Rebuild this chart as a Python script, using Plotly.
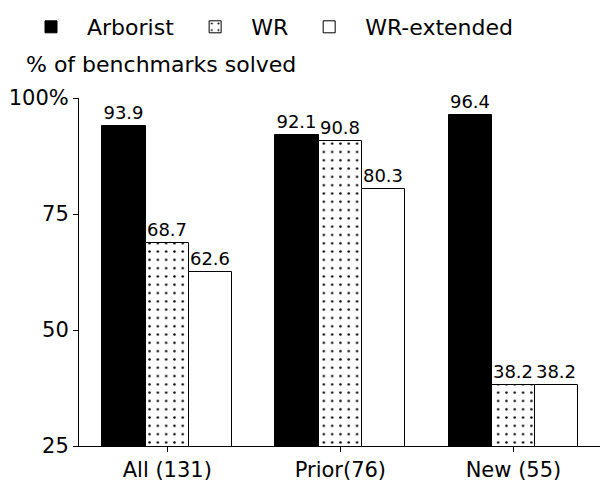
import plotly.graph_objects as go

categories = ["All (131)", "Prior(76)", "New (55)"]
series_names = ["Arborist", "WR", "WR-extended"]
arborist = [93.9, 92.1, 96.4]
wr = [68.7, 90.8, 38.2]
wr_ext = [62.6, 80.3, 38.2]
y_tickvals = [25, 50, 75, 100]
y_ticktext = ["25", "50", "75", "100%"]

FONT = "DejaVu Sans"
values = [arborist, wr, wr_ext]
fills = [
    dict(color="black", pattern=dict(shape="")),
    dict(color="white", pattern=dict(shape=".", fgcolor="black", bgcolor="white",
                                     fgopacity=1, size=8.3, solidity=0.07)),
    dict(color="white", pattern=dict(shape="")),
]
offsets = [-0.25, 0.0, 0.25]

fig = go.Figure()
xs = list(range(len(categories)))
for name, vals, fill, off in zip(series_names, values, fills, offsets):
    fig.add_trace(go.Bar(
        x=[x + off for x in xs], y=vals, width=0.25, name=name,
        marker=dict(color=fill["color"], pattern=fill["pattern"],
                    line=dict(color="black", width=1)),
        text=[f"{v:.1f}" for v in vals], textposition="outside",
        textfont=dict(family=FONT, size=18, color="black"),
        cliponaxis=False,
    ))

fig.update_layout(
    width=610, height=487,
    margin=dict(l=79, r=10, t=98, b=41, autoexpand=False),
    plot_bgcolor="white", paper_bgcolor="white",
    font=dict(family=FONT, size=21, color="black"),
    barmode="overlay", bargap=0,
    showlegend=True,
    legend=dict(orientation="h", x=15 / 610, xref="container", xanchor="left",
                y=1 - 27 / 487, yref="container", yanchor="middle",
                font=dict(size=22), itemwidth=62,
                traceorder="normal", bgcolor="rgba(0,0,0,0)"),
    xaxis=dict(range=[-0.51, 2.5], tickvals=xs, ticktext=categories,
               showline=True, linecolor="black", linewidth=1,
               ticks="outside", ticklen=5, tickcolor="black", automargin=False,
               showgrid=False, zeroline=False, tickfont=dict(size=21)),
    yaxis=dict(range=[25, 100], tickvals=y_tickvals, ticktext=y_ticktext,
               showline=True, linecolor="black", linewidth=1,
               ticks="outside", ticklen=5, tickcolor="black", automargin=False,
               showgrid=False, zeroline=False, tickfont=dict(size=21)),
    annotations=[dict(text="% of benchmarks solved", xref="paper", yref="paper",
                      x=(24 - 79) / 521, y=(446 - 64) / 348, xanchor="left", yanchor="middle",
                      showarrow=False, font=dict(family=FONT, size=22, color="black"))],
)

fig.write_html("out.html")
